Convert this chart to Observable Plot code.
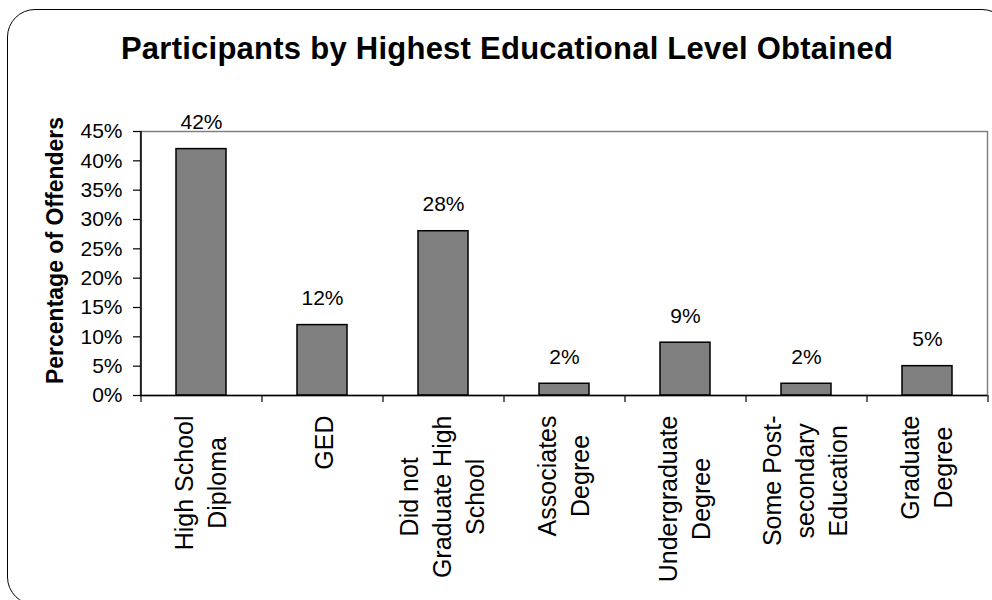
<!DOCTYPE html>
<html>
<head>
<meta charset="utf-8">
<script src="https://cdn.jsdelivr.net/npm/d3@7"></script>
<script src="https://cdn.jsdelivr.net/npm/@observablehq/plot@0.6"></script>
<style>
  html, body { margin: 0; padding: 0; background: #fff; overflow: hidden; }
  #wrap { position: relative; width: 992px; height: 600px; overflow: hidden; font-family: "Liberation Sans", Arial, sans-serif; }
  #border { position: absolute; left: 7px; top: 9px; width: 1003px; height: 596px; border: 1.5px solid #000; border-radius: 28px; box-sizing: border-box; }
  #title { position: absolute; left: 22px; top: 33px; width: 970px; text-align: center; font-weight: bold; font-size: 31px; line-height: 31px; letter-spacing: 0.25px; color: #000; white-space: nowrap; }
  #chart { position: absolute; left: 0; top: 80px; }
</style>
</head>
<body>
<div id="wrap">
  <div id="border"></div>
  <div id="title">Participants by Highest Educational Level Obtained</div>
  <div id="chart"></div>
</div>
<script>
const categories = [
  "High School\nDiploma",
  "GED",
  "Did not\nGraduate High\nSchool",
  "Associates\nDegree",
  "Undergraduate\nDegree",
  "Some Post-\nsecondary\nEducation",
  "Graduate\nDegree"
];
const values = [42, 12, 28, 2, 9, 2, 5];
const yTicks = [0, 5, 10, 15, 20, 25, 30, 35, 40, 45];
const yTitle = "Percentage of Offenders";

const data = categories.map((c, i) => ({category: c, value: values[i]}));

const W = 992, H = 520;
const mL = 140, mR = 5, mT = 51, mB = 205;
const step = (W - mL - mR) / categories.length;

const catFont = 25;
const ctx = document.createElement("canvas").getContext("2d");
ctx.font = `${catFont}px "Liberation Sans", Arial, sans-serif`;
const maxLen = (s) => Math.max(...s.split("\n").map(l => ctx.measureText(l).width));

const catMarks = categories.map((c) => {
  const n = c.split("\n").length;
  return Plot.text([c], {
    x: d => d, text: d => d,
    frameAnchor: "bottom", rotate: -90,
    textAnchor: "middle", lineAnchor: "middle", lineHeight: 1.33,
    fontSize: catFont, fill: "black",
    dy: 20 + maxLen(c) / 2, dx: n > 1 ? -3 : 0
  });
});

const chart = Plot.plot({
  width: W, height: H,
  marginLeft: mL, marginRight: mR, marginTop: mT, marginBottom: mB,
  style: {fontFamily: '"Liberation Sans", Arial, sans-serif', color: "black", background: "transparent", overflow: "visible"},
  x: {type: "band", domain: categories, paddingInner: 0.59, paddingOuter: 0.295, align: 0.5},
  y: {domain: [0, 45]},
  marks: [
    Plot.frame({stroke: "#808080", strokeWidth: 1.5}),
    Plot.barY(data, {x: "category", y: "value", fill: "#808080", stroke: "black", strokeWidth: 1.5}),
    Plot.ruleY([0], {stroke: "black", strokeWidth: 1.5}),
    Plot.ruleX([categories[0]], {x: d => d, dx: -step / 2, stroke: "black", strokeWidth: 1.5}),
    Plot.axisY({ticks: yTicks, tickSize: 7, tickPadding: 11, tickFormat: d => d + "%", fontSize: 21, label: null, strokeWidth: 1.2}),
    Plot.axisX({ticks: categories, tickSize: 7, tickFormat: () => "", label: null, dx: -step / 2, strokeWidth: 1.2}),
    Plot.axisX({ticks: [categories[categories.length - 1]], tickSize: 7, tickFormat: () => "", label: null, dx: step / 2, strokeWidth: 1.2}),
    Plot.text(data, {x: "category", y: "value", text: d => d.value + "%", lineAnchor: "bottom", dy: -20, fontSize: 21, fill: "black"}),
    Plot.text([yTitle], {text: d => d, frameAnchor: "left", rotate: -90, textAnchor: "middle", lineAnchor: "middle", fontSize: 23, fontWeight: "bold", dx: -85, dy: -13, fill: "black"}),
    ...catMarks
  ]
});
document.getElementById("chart").appendChild(chart);
</script>
</body>
</html>
